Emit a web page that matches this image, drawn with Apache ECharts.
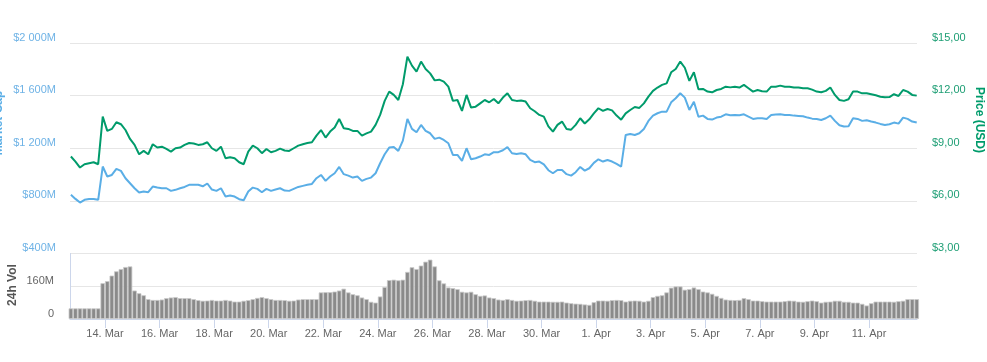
<!DOCTYPE html>
<html><head><meta charset="utf-8">
<script src="https://cdn.jsdelivr.net/npm/echarts@6/dist/echarts.min.js"></script>
<style>html,body{margin:0;padding:0;background:#fff}#c{width:987px;height:362px}</style>
</head><body><div id="c"></div>
<script>
// time is counted in days from 12 Mar 00:00; samples every 4 hours from 12 Mar 18:00
const startDay = 0.75;
const stepDay = 1 / 6;

// Price (USD)
const price = [
8.53,8.24,7.90,8.09,8.15,8.20,8.09,10.80,9.99,10.10,10.48,10.37,10.04,9.53,9.19,8.66,8.85,8.66,9.23,9.04,9.09,8.96,8.81,9.00,9.04,9.19,9.30,9.27,9.19,9.23,9.34,9.00,8.85,9.09,8.43,8.49,8.43,8.20,8.09,8.81,9.15,9.00,8.72,8.96,8.77,8.85,8.98,
8.87,8.85,9.00,9.15,9.23,9.30,9.34,9.72,10.04,9.61,9.95,10.18,10.67,10.14,10.10,9.99,9.99,9.72,9.85,9.95,10.33,10.90,11.70,12.23,12.04,11.75,12.65,14.22,13.71,13.37,13.94,13.52,13.27,12.87,12.91,12.80,12.51,11.70,11.75,11.13,12.04,11.32,11.37,11.56,11.75,11.62,11.81,
11.56,11.89,12.13,11.75,11.70,11.72,11.66,11.28,11.11,10.90,10.80,10.25,9.95,10.33,10.52,10.10,10.06,10.33,10.71,10.41,10.65,10.99,11.28,11.13,11.24,11.16,10.86,10.63,10.99,11.18,11.35,11.30,11.56,11.94,12.27,12.46,12.61,12.70,13.33,13.52,13.94,13.59,12.84,13.33,12.36,12.38,
12.23,12.19,12.32,12.38,12.51,12.47,12.51,12.46,12.61,12.42,12.23,12.32,12.25,12.23,12.51,12.51,12.57,12.51,12.51,12.46,12.46,12.42,12.42,12.34,12.23,12.19,12.27,12.46,12.04,11.75,11.70,11.79,12.23,12.23,12.13,12.13,12.08,12.02,11.94,11.91,11.92,12.08,11.98,12.32,12.23,12.04,12.00
];

// Market cap (millions USD)
const marketCap = [
846,815,787,808,815,815,808,1061,985,997,1043,1028,972,934,896,863,871,866,909,901,896,896,876,884,896,906,922,922,922,911,932,886,876,896,833,841,833,813,805,871,901,891,866,891,876,886,896,
878,876,891,906,914,922,929,972,997,952,985,1010,1058,1003,992,977,985,952,967,977,1010,1086,1154,1205,1210,1180,1258,1423,1347,1322,1377,1332,1314,1271,1281,1263,1238,1149,1149,1104,1200,1116,1124,1137,1154,1149,1170,
1170,1185,1208,1162,1157,1162,1154,1111,1094,1099,1078,1033,1010,1035,1035,1003,992,1018,1058,1030,1048,1089,1116,1099,1111,1099,1081,1061,1301,1309,1301,1314,1347,1408,1448,1466,1478,1478,1549,1580,1618,1585,1491,1554,1440,1448,
1423,1418,1433,1440,1458,1451,1453,1451,1458,1440,1423,1428,1428,1423,1453,1456,1458,1453,1453,1448,1446,1443,1433,1425,1423,1415,1428,1448,1408,1375,1365,1367,1428,1423,1408,1413,1403,1395,1385,1377,1382,1395,1387,1433,1423,1403,1395
];

// 24h volume (millions USD)
const volume = [
52,52,52,52,52,52,52,175,185,212,233,244,254,257,139,126,116,97,93,93,95,
102,105,107,102,102,102,97,92,89,90,93,90,90,93,90,85,85,89,92,97,
103,107,102,97,93,93,92,89,90,95,97,97,97,97,130,131,131,134,139,148,
130,121,116,105,97,84,80,110,156,190,192,189,192,230,253,244,261,280,290,257,
189,174,154,151,146,133,130,133,121,113,115,105,102,95,93,97,93,89,90,92,
93,89,85,85,85,84,84,85,80,77,75,74,71,69,82,90,90,89,92,93,
92,85,89,90,89,85,89,107,113,116,130,153,159,159,143,146,154,146,134,130,
123,113,103,95,93,92,93,102,97,90,90,87,85,85,85,85,87,90,89,85,
84,87,90,87,80,84,85,89,89,84,84,80,80,74,66,77,85,85,85,85,
84,87,89,97,97,97
];

const dateTickDays = [2,4,6,8,10,12,14,16,18,20,22,24,26,28,30];
const dateTickLabels = ['14. Mar','16. Mar','18. Mar','20. Mar','22. Mar','24. Mar','26. Mar','28. Mar','30. Mar','1. Apr','3. Apr','5. Apr','7. Apr','9. Apr','11. Apr'];
const mcTicks = [400,800,1200,1600,2000];
const mcTickLabels = ['$400M','$800M','$1 200M','$1 600M','$2 000M'];
const priceTicks = [3,6,9,12,15];
const priceTickLabels = ['$3,00','$6,00','$9,00','$12,00','$15,00'];
const volTicks = [0,160,320];
const volTickLabels = ['0','160M',''];

const times = price.map((_, i) => startDay + i * stepDay);
const pair = arr => arr.map((v, i) => [times[i], v]);

const FONT = 'Liberation Sans';
const BLUE = '#5aaee6';
const GREEN = '#009b6b';
const xMin = 0.717, xMax = 31.76;

const chart = echarts.init(document.getElementById('c'), null, {renderer: 'canvas'});
chart.setOption({
  animation: false,
  backgroundColor: '#fff',
  grid: [
    {left: 70, width: 847, top: 43, height: 210.5},
    {left: 70, width: 847, top: 253.5, height: 65.5}
  ],
  xAxis: [
    {type: 'value', gridIndex: 0, min: xMin, max: xMax, show: false},
    {type: 'value', gridIndex: 1, min: xMin, max: xMax,
     axisLine: {show: true, lineStyle: {color: '#ccd6eb', width: 1}},
     axisTick: {show: true, customValues: dateTickDays, length: 9, lineStyle: {color: '#ccd6eb'}},
     axisLabel: {show: true, customValues: dateTickDays, margin: 9, fontFamily: FONT, fontSize: 11, color: '#666',
       formatter: v => { const k = dateTickDays.indexOf(Math.round(v)); return k >= 0 ? dateTickLabels[k] : ''; }},
     splitLine: {show: false}}
  ],
  yAxis: [
    {type: 'value', gridIndex: 0, position: 'left', min: 400, max: 2000, interval: 400,
     axisLine: {show: false}, axisTick: {show: false},
     axisLabel: {margin: 14, fontFamily: FONT, fontSize: 11, color: '#6fb3e6', verticalAlign: 'bottom',
       formatter: v => mcTickLabels[mcTicks.indexOf(v)]},
     splitLine: {show: true, lineStyle: {color: '#e6e6e6', width: 1}}},
    {type: 'value', gridIndex: 0, position: 'right', min: 3, max: 15, interval: 3,
     axisLine: {show: false}, axisTick: {show: false},
     axisLabel: {margin: 15, fontFamily: FONT, fontSize: 11, color: '#1d9e74', verticalAlign: 'bottom',
       formatter: v => priceTickLabels[priceTicks.indexOf(v)]},
     splitLine: {show: false}},
    {type: 'value', gridIndex: 1, position: 'left', min: 0, max: 320, interval: 160,
     axisLine: {show: true, lineStyle: {color: '#ccd6eb'}}, axisTick: {show: false},
     axisLabel: {margin: 16, fontFamily: FONT, fontSize: 11, color: '#666', verticalAlign: 'bottom',
       formatter: v => volTickLabels[volTicks.indexOf(v)]},
     splitLine: {show: true, lineStyle: {color: '#e6e6e6', width: 1}}}
  ],
  series: [
    {type: 'line', name: 'Market Cap', xAxisIndex: 0, yAxisIndex: 0, data: pair(marketCap),
     showSymbol: false, symbol: 'none', lineStyle: {color: BLUE, width: 2}, itemStyle: {color: BLUE}},
    {type: 'line', name: 'Price (USD)', xAxisIndex: 0, yAxisIndex: 1, data: pair(price),
     showSymbol: false, symbol: 'none', lineStyle: {color: GREEN, width: 2}, itemStyle: {color: GREEN}},
    {type: 'bar', name: '24h Vol', xAxisIndex: 1, yAxisIndex: 2, data: pair(volume),
     barWidth: 4.55, itemStyle: {color: '#8a8a8a', borderColor: '#c9c9c9', borderWidth: 0.8}}
  ],
  graphic: [
    {type: 'text', x: -1, y: 123, rotation: Math.PI / 2,
     style: {text: 'Market Cap', fill: BLUE, font: 'bold 12px ' + FONT, align: 'center', verticalAlign: 'middle'}},
    {type: 'text', x: 979, y: 120, rotation: -Math.PI / 2,
     style: {text: 'Price (USD)', fill: GREEN, font: 'bold 12px ' + FONT, align: 'center', verticalAlign: 'middle'}},
    {type: 'text', x: 13, y: 285, rotation: Math.PI / 2,
     style: {text: '24h Vol', fill: '#555', font: 'bold 12px ' + FONT, align: 'center', verticalAlign: 'middle'}}
  ]
});
</script></body></html>
